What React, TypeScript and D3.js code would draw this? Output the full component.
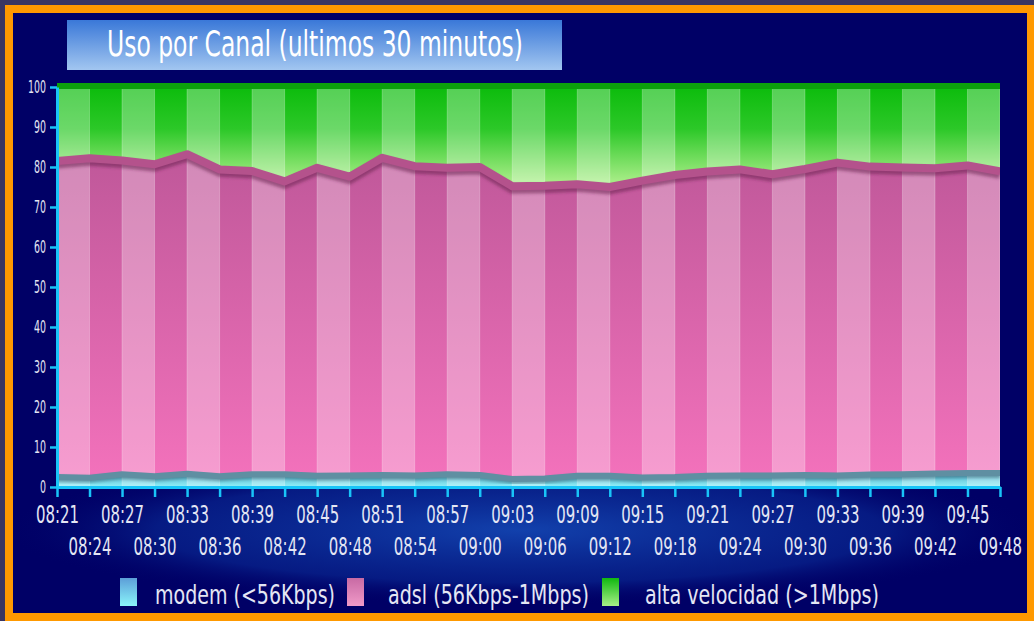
import React, { useRef, useEffect } from 'react';
import * as d3 from 'd3';

const times = ["08:21","08:24","08:27","08:30","08:33","08:36","08:39","08:42","08:45","08:48",
  "08:51","08:54","08:57","09:00","09:03","09:06","09:09","09:12","09:15","09:18",
  "09:21","09:24","09:27","09:30","09:33","09:36","09:39","09:42","09:45","09:48"];
const modem = [2.5,2.3,3.2,2.7,3.3,2.7,3.2,3.2,2.8,2.9,3.0,2.9,3.2,3.0,2.0,2.1,2.8,2.8,2.4,2.5,2.8,2.9,2.9,3.0,2.9,3.1,3.2,3.4,3.5,3.5];
const adsl = [79.0,79.9,78.4,78.0,79.9,76.7,75.8,73.2,77.0,74.7,79.3,77.3,76.6,77.0,73.2,73.2,72.9,72.2,74.2,75.5,76.1,76.5,75.3,76.5,78.2,77.0,76.7,76.3,76.9,75.4];
const alta = [18.5,17.8,18.4,19.3,16.8,20.6,21.0,23.6,20.2,22.4,17.7,19.8,20.2,20.0,24.8,24.7,24.3,25.0,23.4,22.0,21.1,20.6,21.8,20.5,18.9,19.9,20.1,20.3,19.6,21.1];
const yTicks = [0,10,20,30,40,50,60,70,80,90,100];
const seriesKeys = ["modem","adsl","alta"];
const legendLabels = ["modem (<56Kbps)", "adsl (56Kbps-1Mbps)", "alta velocidad (>1Mbps)"];
const titleText = "Uso por Canal (ultimos 30 minutos)";

const FONT = "'DejaVu Sans Condensed', 'DejaVu Sans', sans-serif";

export default function App() {
  const ref = useRef<SVGSVGElement>(null);
  useEffect(() => {
    const svg = d3.select(ref.current);
    svg.selectAll('*').remove();
    const W = 1034, H = 621;
    const left = 57, right = 1000, top = 87, bottom = 487;
    const x = d3.scalePoint<string>().domain(times).range([left, right]);
    const y = d3.scaleLinear().domain([0, 100]).range([bottom, top]);

    const defs = svg.append('defs');
    const lg = (id: string, x1: number, y1: number, x2: number, y2: number, stops: [number, string, number?][]) => {
      const g = defs.append('linearGradient').attr('id', id)
        .attr('gradientUnits', 'userSpaceOnUse')
        .attr('x1', x1).attr('y1', y1).attr('x2', x2).attr('y2', y2);
      stops.forEach(s => g.append('stop').attr('offset', s[0]).attr('stop-color', s[1]).attr('stop-opacity', s[2] ?? 1));
    };
    lg('gGreen', 0, top, 0, 180, [[0, '#0cbc0c'], [0.45, '#2cc828'], [1, '#a4ec84']]);
    lg('gPink', 0, 160, 0, 485, [[0, '#c0589a'], [1, '#f472bc']]);
    lg('gCyan', 0, 474, 0, 487, [[0, '#5ab8d0'], [1, '#90f0f8']]);
    lg('gTitle', 0, 20, 0, 70, [[0, '#3a78d8'], [1, '#a2c6f0']]);
    lg('gLegC', 0, 578, 0, 606, [[0, '#5c9ed8'], [1, '#8af4fa']]);
    lg('gLegP', 0, 578, 0, 606, [[0, '#c86aa4'], [1, '#f09ac8']]);
    lg('gLegG', 0, 578, 0, 606, [[0, '#10b810'], [1, '#a8f088']]);
    const rg = defs.append('radialGradient').attr('id', 'gGlow')
      .attr('gradientUnits', 'userSpaceOnUse').attr('cx', 0).attr('cy', 0).attr('r', 1)
      .attr('gradientTransform', 'translate(520,530) scale(520,75)');
    rg.append('stop').attr('offset', 0).attr('stop-color', '#1448b4').attr('stop-opacity', 0.9);
    rg.append('stop').attr('offset', 0.7).attr('stop-color', '#0a2c96').attr('stop-opacity', 0.6);
    rg.append('stop').attr('offset', 1).attr('stop-color', '#000066').attr('stop-opacity', 0);
    const blur = defs.append('filter').attr('id', 'blur').attr('x', '-5%').attr('y', '-50%').attr('width', '110%').attr('height', '200%');
    blur.append('feGaussianBlur').attr('stdDeviation', 1.5);
    defs.append('clipPath').attr('id', 'plotClip').append('rect')
      .attr('x', left).attr('y', top - 4).attr('width', right - left).attr('height', bottom - top + 4);

    // frame
    svg.append('rect').attr('width', W).attr('height', H).attr('fill', '#3a3662');
    svg.append('rect').attr('x', 5).attr('y', 5).attr('width', W - 5).attr('height', H - 5).attr('fill', '#ff9900');
    svg.append('rect').attr('x', 13).attr('y', 13).attr('width', 1014).attr('height', 600).attr('fill', '#000066');
    svg.append('rect').attr('x', 13).attr('y', 440).attr('width', 1014).attr('height', 173).attr('fill', 'url(#gGlow)');

    // title
    svg.append('rect').attr('x', 67).attr('y', 20).attr('width', 495).attr('height', 50).attr('fill', 'url(#gTitle)');
    svg.append('text').attr('x', 107).attr('y', 56).attr('font-family', FONT).attr('font-size', 36)
      .attr('fill', '#ffffff').attr('textLength', 416).attr('lengthAdjust', 'spacingAndGlyphs').text(titleText);

    // data
    const rows = times.map((t, i) => ({ t, modem: modem[i], adsl: adsl[i], alta: alta[i] }));
    const stacked = d3.stack<any>().keys(seriesKeys)(rows);
    const area = d3.area<any>().x(d => x(d.data.t)!).y0(d => y(d[0])).y1(d => y(d[1]));
    const line = d3.line<any>().x(d => x(d.data.t)!).y(d => y(d[1]));
    const fills = ['url(#gCyan)', 'url(#gPink)', 'url(#gGreen)'];

    const plot = svg.append('g').attr('clip-path', 'url(#plotClip)');
    stacked.forEach((s, i) => {
      plot.append('path').datum(s).attr('d', area).attr('fill', fills[i]);
    });
    // stripes
    for (let i = 0; i < times.length - 1; i += 2) {
      const x0 = x(times[i])!, x1 = x(times[i + 1])!;
      plot.append('rect').attr('x', x0).attr('y', top).attr('width', x1 - x0).attr('height', bottom - top)
        .attr('fill', '#ffffff').attr('opacity', 0.3);
    }
    times.forEach(t => {
      plot.append('line').attr('x1', x(t)!).attr('x2', x(t)!).attr('y1', top).attr('y2', bottom)
        .attr('stroke', '#ffffff').attr('stroke-opacity', 0.25).attr('stroke-width', 1);
    });
    // lines
    plot.append('line').attr('x1', left).attr('x2', right).attr('y1', y(100) - 1).attr('y2', y(100) - 1)
      .attr('stroke', '#0ca00c').attr('stroke-width', 6);
    plot.append('path').datum(stacked[1]).attr('d', line).attr('fill', 'none')
      .attr('stroke', '#6a2050').attr('stroke-opacity', 0.55).attr('stroke-width', 9)
      .attr('transform', 'translate(0,3)').attr('filter', 'url(#blur)');
    plot.append('path').datum(stacked[1]).attr('d', line).attr('fill', 'none')
      .attr('stroke', '#b4528c').attr('stroke-width', 8).attr('stroke-linejoin', 'round');
    plot.append('path').datum(stacked[0]).attr('d', line).attr('fill', 'none')
      .attr('stroke', '#2a5868').attr('stroke-opacity', 0.5).attr('stroke-width', 6)
      .attr('transform', 'translate(0,2)').attr('filter', 'url(#blur)');
    plot.append('path').datum(stacked[0]).attr('d', line).attr('fill', 'none')
      .attr('stroke', '#5f8fa2').attr('stroke-width', 6).attr('stroke-linejoin', 'round');

    // axes
    const axisColor = '#18c4f8';
    const xAxis = svg.append('g').attr('transform', `translate(0,${bottom})`)
      .call(d3.axisBottom(x).tickSize(10).tickSizeOuter(0));
    xAxis.select('.domain').attr('stroke', axisColor).attr('stroke-width', 3);
    xAxis.selectAll('.tick line').attr('stroke', axisColor).attr('stroke-width', 2.5);
    xAxis.selectAll<SVGTextElement, string>('.tick text')
      .attr('dy', null)
      .attr('y', (_d, i) => (i % 2 === 0 ? 36 : 68))
      .attr('font-family', FONT).attr('font-size', 25).attr('fill', '#e4e6f4')
      .attr('textLength', 43).attr('lengthAdjust', 'spacingAndGlyphs');

    const yAxis = svg.append('g').attr('transform', `translate(${left},0)`)
      .call(d3.axisLeft(y).tickValues(yTicks).tickSize(7).tickSizeOuter(0).tickPadding(4));
    yAxis.select('.domain').attr('stroke', axisColor).attr('stroke-width', 3);
    yAxis.selectAll('.tick line').attr('stroke', axisColor).attr('stroke-width', 2.5);
    yAxis.selectAll<SVGTextElement, number>('.tick text')
      .attr('font-family', FONT).attr('font-size', 18).attr('fill', '#e4e6f4')
      .attr('textLength', d => String(d).length * 6).attr('lengthAdjust', 'spacingAndGlyphs');

    // legend
    const legSq = [120, 347, 602];
    const legTx = [155, 388, 645];
    const legW = [180, 201, 234];
    const legFill = ['url(#gLegC)', 'url(#gLegP)', 'url(#gLegG)'];
    legendLabels.forEach((lab, i) => {
      svg.append('rect').attr('x', legSq[i]).attr('y', 578).attr('width', 17).attr('height', 28).attr('fill', legFill[i]);
      svg.append('text').attr('x', legTx[i]).attr('y', 604).attr('font-family', FONT).attr('font-size', 27)
        .attr('fill', '#e4e6f4').attr('textLength', legW[i]).attr('lengthAdjust', 'spacingAndGlyphs').text(lab);
    });
  }, []);
  return <svg ref={ref} width={1034} height={621} style={{ position: 'absolute', left: 0, top: 0, display: 'block' }} />;
}
